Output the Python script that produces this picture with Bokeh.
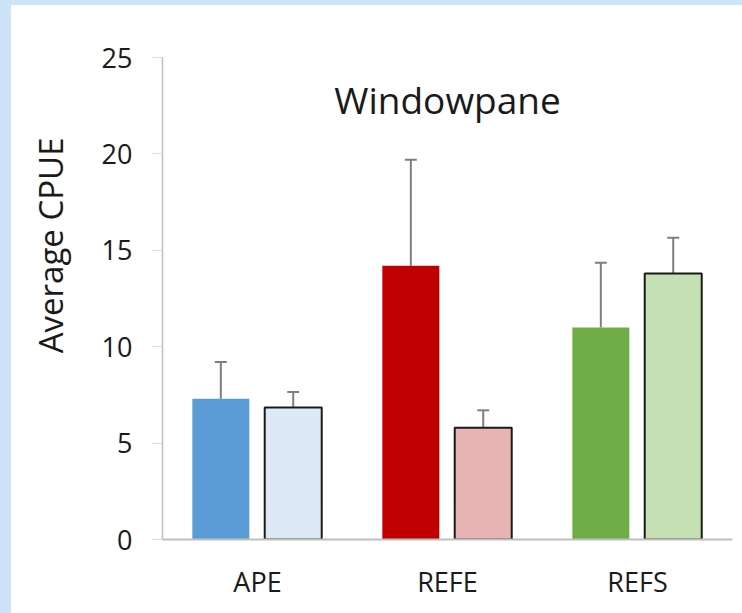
from bokeh.plotting import figure
from bokeh.models import (ColumnDataSource, FactorRange, Range1d, Whisker, TeeHead,
                          FixedTicker, Title)
from bokeh.transform import dodge
from bokeh.core.properties import value
from bokeh.embed import file_html
from bokeh.resources import INLINE

# ---- data ----
categories = ["APE", "REFE", "REFS"]
first_means = [7.3, 14.2, 11.0]
first_se = [1.9, 5.5, 3.35]
second_means = [6.85, 5.8, 13.8]
second_se = [0.8, 0.9, 1.85]
first_colors = ["#5B9BD5", "#C00000", "#70AD47"]
second_colors = ["#DDEAF6", "#E8B3B3", "#C5E0B3"]
y_ticks = [0, 5, 10, 15, 20, 25]
title_text = "Windowpane"
y_label = "Average CPUE"

FONT = "Open Sans"
W, H = 742, 613
ML, MR, MT, MB = 162, 10, 57, 74

src = ColumnDataSource(dict(
    cat=categories,
    m1=first_means,
    u1=[m + s for m, s in zip(first_means, first_se)],
    m2=second_means,
    u2=[m + s for m, s in zip(second_means, second_se)],
    c1=first_colors,
    c2=second_colors,
))

p = figure(width=W, height=H, x_range=FactorRange(*categories, range_padding=0),
           y_range=Range1d(0, 25), output_backend="svg", toolbar_location=None,
           min_border_left=ML, min_border_right=MR, min_border_top=MT,
           min_border_bottom=MB)
p.outline_line_color = None
p.background_fill_color = "white"
p.border_fill_alpha = 0
frame_blue = "#CDE3F7"
p.styles = {
    "background": (f"linear-gradient(to right, {frame_blue} 11px, transparent 11px), "
                   f"linear-gradient(to bottom, {frame_blue} 5px, white 5px)")
}
p.xgrid.grid_line_color = None
p.ygrid.grid_line_color = None

off1, off2, bw = -0.193, 0.188, 0.3

p.vbar(x=dodge("cat", off1, range=p.x_range), top="m1", bottom=0, width=bw,
       fill_color="c1", line_color=None, source=src)
p.vbar(x=dodge("cat", off2, range=p.x_range), top="m2", bottom=0, width=bw,
       fill_color="c2", line_color="#1A1A1A", line_width=2, source=src)

for off, lo, hi in [(off1, "m1", "u1"), (off2, "m2", "u2")]:
    w = Whisker(base=dodge("cat", off, range=p.x_range), lower=lo, upper=hi,
                source=src, line_color="#7F7F7F", line_width=2,
                upper_head=TeeHead(size=12, line_color="#7F7F7F", line_width=2),
                lower_head=None)
    p.add_layout(w)

# title inside the plot area
p.text(x=["REFE"], y=[22.82], text=[title_text], text_align="center",
       text_baseline="alphabetic", text_font=value(FONT), text_font_size="37px",
       text_color="#1A1A1A")

# axes
p.yaxis.ticker = FixedTicker(ticks=y_ticks)
p.yaxis.major_label_text_font = FONT
p.yaxis.major_label_text_font_size = "27px"
p.yaxis.major_label_text_color = "#1A1A1A"
p.yaxis.major_label_standoff = 20
p.yaxis.axis_line_color = "#BFBFBF"
p.yaxis.axis_line_width = 1.5
p.yaxis.major_tick_line_color = "#D9D9D9"
p.yaxis.major_tick_out = 10
p.yaxis.major_tick_in = 0
p.yaxis.minor_tick_line_color = None

# y-axis title as a side title so it can sit above the frame centre like the original
p.add_layout(Title(text=y_label, align="right", offset=80, standoff=51,
                   text_font=FONT, text_font_size="33px", text_font_style="normal",
                   text_color="#1A1A1A"), "left")

p.xaxis.major_label_text_font = FONT
p.xaxis.major_label_text_font_size = "27px"
p.xaxis.major_label_text_color = "#1A1A1A"
p.xaxis.major_label_standoff = 17
p.xaxis.axis_line_color = "#BFBFBF"
p.xaxis.axis_line_width = 2
p.xaxis.major_tick_line_color = None
p.xaxis.minor_tick_line_color = None

open("out.html", "w").write(file_html(p, INLINE))
